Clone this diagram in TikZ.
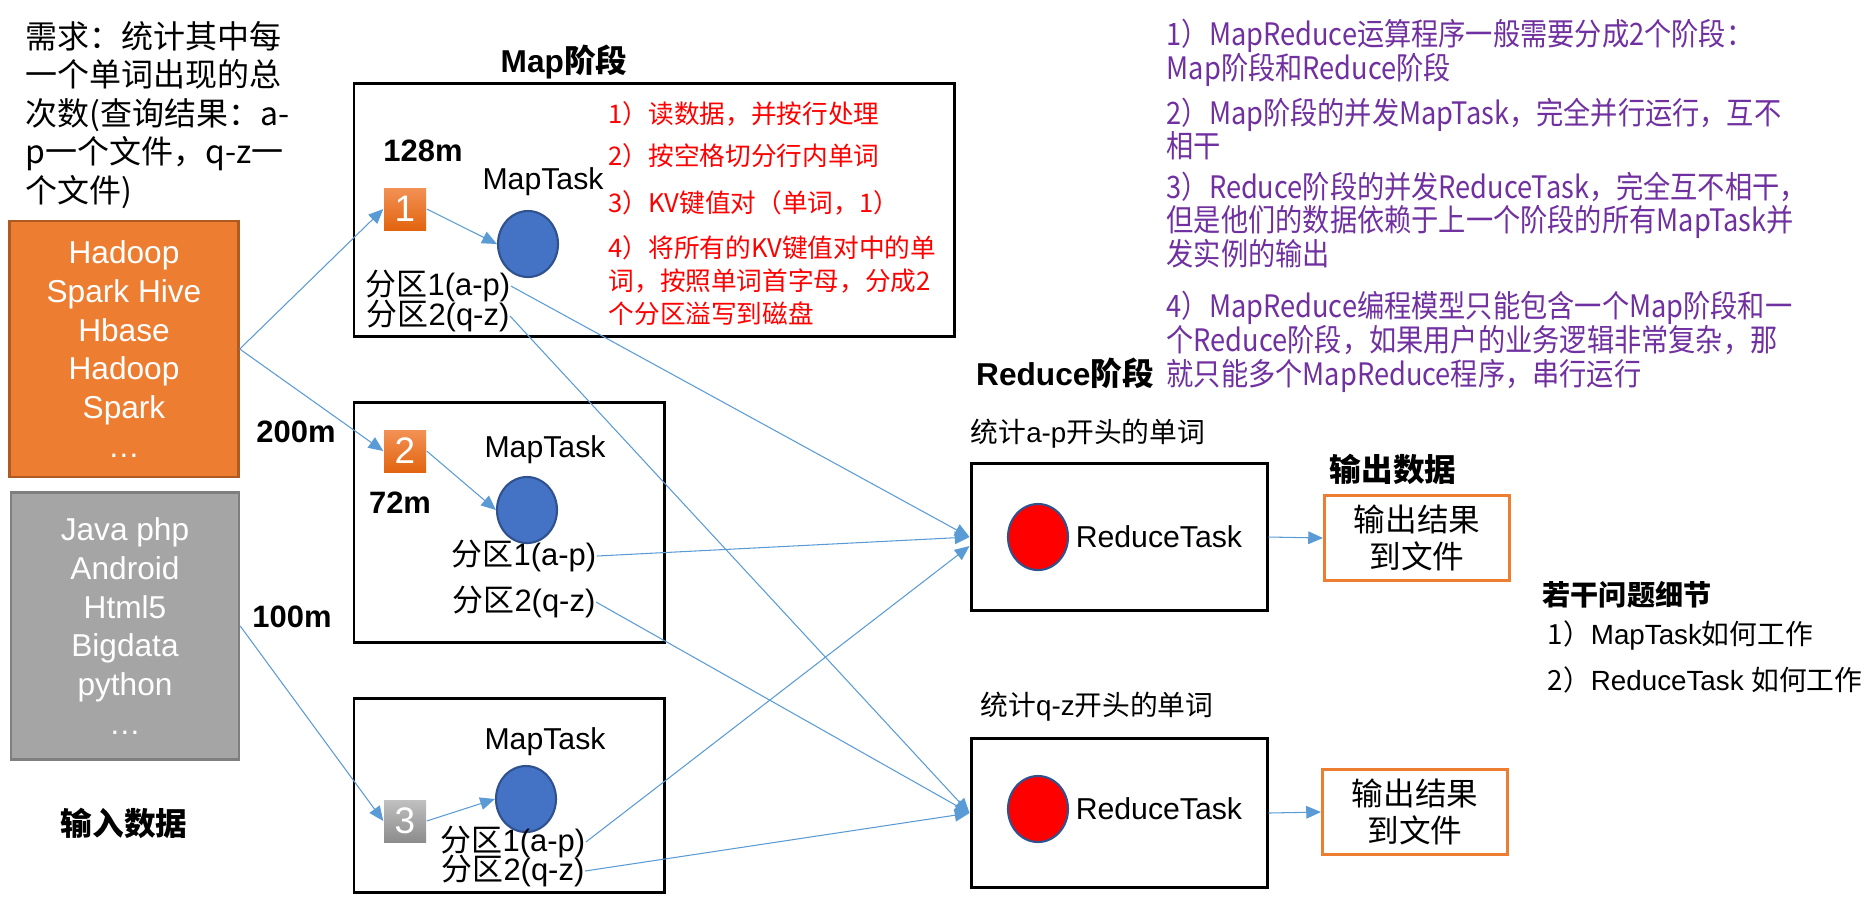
\documentclass[tikz,border=0pt]{standalone}
\usepackage{fontspec}
\setmainfont{Liberation Sans}
\newfontfamily\cjk{Noto Sans CJK SC}
\newfontfamily\cjknarrow[FakeStretch=0.88]{Noto Sans CJK SC}
\usetikzlibrary{arrows.meta, positioning, shapes.geometric, calc}
\usepackage{xcolor}
\definecolor{mblue}{RGB}{91,155,213}
\definecolor{torange}{RGB}{237,125,49}
\definecolor{dorange}{RGB}{174,90,33}
\definecolor{tgray}{RGB}{165,165,165}
\definecolor{dgray}{RGB}{127,127,127}
\definecolor{sqtop}{RGB}{242,145,85}
\definecolor{sqbot}{RGB}{226,100,15}
\definecolor{gtop}{RGB}{192,192,192}
\definecolor{gbot}{RGB}{140,140,140}
\definecolor{cblue}{RGB}{68,114,196}
\definecolor{cedge}{RGB}{47,82,143}
\definecolor{mpurple}{RGB}{112,48,160}
\newcommand{\zh}[1]{{\cjk #1}}

\begin{document}
\begin{tikzpicture}[
  phase/.style={draw,line width=0.85pt,inner sep=0pt},
  inbox/.style={draw=dorange,fill=torange,line width=0.7pt,text=white,align=center,
                inner sep=0pt,font=\fontsize{9}{11}\selectfont},
  inboxg/.style={inbox,draw=dgray,fill=tgray},
  chunk/.style={shade,top color=sqtop,bottom color=sqbot,text=white,
                minimum size=0.42cm,inner sep=0pt,font=\fontsize{10.5}{10.5}\selectfont},
  chunkg/.style={chunk,top color=gtop,bottom color=gbot},
  mtask/.style={ellipse,draw=cedge,fill=cblue,line width=0.6pt,
                minimum width=0.6cm,minimum height=0.66cm,inner sep=0pt},
  rtask/.style={mtask,fill=red},
  outbox/.style={draw=torange,line width=0.85pt,align=center,inner sep=0pt,
                 minimum width=1.85cm,minimum height=0.85cm,font=\cjk\fontsize{9}{10.4}\selectfont},
  lbl/.style={font=\fontsize{8.6}{10}\selectfont,inner sep=0pt},
  part/.style={font=\fontsize{8.8}{10}\selectfont,inner sep=0pt},
  mb/.style={font=\bfseries\fontsize{8.8}{10}\selectfont,inner sep=0pt},
  head/.style={font=\bfseries\fontsize{9}{10}\selectfont,inner sep=0pt},
  redtxt/.style={align=left,anchor=west,inner sep=0pt,text=red,font=\cjk\fontsize{7.3}{9.4}\selectfont},
  note/.style={align=left,anchor=west,inner sep=0pt,text=mpurple,font=\cjknarrow\fontsize{8.8}{9.6}\selectfont},
  arr/.style={-{Triangle[length=4.2pt,width=3.6pt]},mblue,line width=0.3pt}
]
\useasboundingbox (0,0) rectangle (18.70,-9.05);

% input
\node[align=left,anchor=west,inner sep=0pt,font=\cjk\fontsize{9.1}{10.95}\selectfont] (req) at (0.25,-1.15)
  {需求：统计其中每\\一个单词出现的总\\次数(查询结果：a-\\p一个文件，q-z一\\个文件)};
\node[inbox,minimum width=2.29cm,minimum height=2.56cm] (inA) at (1.24,-3.49)
  {Hadoop\\Spark Hive\\Hbase\\Hadoop\\Spark\\…};
\node[inboxg,minimum width=2.28cm,minimum height=2.67cm] (inB) at (1.25,-6.26)
  {Java php\\Android\\Html5\\Bigdata\\python\\…};
\node[head] (inlbl) at (1.24,-8.23) {\zh{输入数据}};

% map phase
\node[head] (maplbl) at (5.64,-0.62) {Map\zh{阶段}};
\node[phase,minimum width=6.00cm,minimum height=2.53cm] (m1) at (6.54,-2.095) {};
\node[phase,minimum width=3.10cm,minimum height=2.40cm] (m2) at (5.09,-5.22) {};
\node[phase,minimum width=3.10cm,minimum height=1.94cm] (m3) at (5.09,-7.95) {};

\node[mb] (s1) at (4.23,-1.51) {128m};
\node[mb] (s2) at (2.96,-4.32) {200m};
\node[mb] (s3) at (2.92,-6.17) {100m};
\node[mb] (s4) at (4.00,-5.03) {72m};

\node[chunk]  (sq1) at (4.05,-2.09) {1};
\node[chunk]  (sq2) at (4.05,-4.51) {2};
\node[chunkg] (sq3) at (4.05,-8.21) {3};

\node[mtask] (c1) at (5.28,-2.44) {};
\node[mtask] (c2) at (5.27,-5.10) {};
\node[mtask] (c3) at (5.26,-7.99) {};
\node[lbl] (t1) at (5.43,-1.82) {MapTask};
\node[lbl] (t2) at (5.45,-4.50) {MapTask};
\node[lbl] (t3) at (5.45,-7.42) {MapTask};

\node[part] (p11) at (4.38,-2.86) {\zh{分区}1(a-p)};
\node[part] (p12) at (4.38,-3.16) {\zh{分区}2(q-z)};
\node[part] (p21) at (5.24,-5.56) {\zh{分区}1(a-p)};
\node[part] (p22) at (5.24,-6.02) {\zh{分区}2(q-z)};
\node[part] (p31) at (5.13,-8.42) {\zh{分区}1(a-p)};
\node[part] (p32) at (5.13,-8.71) {\zh{分区}2(q-z)};

\node[redtxt] (k1) at (6.08,-1.14) {1）读数据，并按行处理};
\node[redtxt] (k2) at (6.08,-1.56) {2）按空格切分行内单词};
\node[redtxt] (k3) at (6.08,-2.03) {3）KV键值对（单词，1）};
\node[redtxt] (k4) at (6.08,-2.81) {4）将所有的KV键值对中的单\\词，按照单词首字母，分成2\\个分区溢写到磁盘};

% reduce phase
\node[head] (redlbl) at (10.65,-3.73) {Reduce\zh{阶段}};
\node[part,font=\fontsize{7.9}{9}\selectfont] (g1) at (10.88,-4.34) {\zh{统计}a-p\zh{开头的单词}};
\node[part,font=\fontsize{7.9}{9}\selectfont] (g2) at (10.97,-7.07) {\zh{统计}q-z\zh{开头的单词}};
\node[phase,minimum width=2.96cm,minimum height=1.47cm] (r1) at (11.19,-5.37) {};
\node[phase,minimum width=2.96cm,minimum height=1.49cm] (r2) at (11.19,-8.13) {};
\node[rtask] (rc1) at (10.38,-5.37) {};
\node[rtask] (rc2) at (10.38,-8.09) {};
\node[lbl,right=0.06cm of rc1] (rt1) {ReduceTask};
\node[lbl,right=0.06cm of rc2] (rt2) {ReduceTask};

% output
\node[head] (outlbl) at (13.93,-4.69) {\zh{输出数据}};
\node[outbox] (o1) at (14.17,-5.38) {输出结果\\到文件};
\node[outbox] (o2) at (14.15,-8.12) {输出结果\\到文件};

% notes
\node[head,anchor=west,font=\cjk\bfseries\fontsize{8}{9}\selectfont] (q0) at (15.42,-5.95) {若干问题细节};
\node[part,anchor=west,font=\fontsize{7.9}{9}\selectfont] (q1) at (15.47,-6.35) {\zh{1）}MapTask\zh{如何工作}};
\node[part,anchor=west,font=\fontsize{7.9}{9}\selectfont] (q2) at (15.47,-6.80) {\zh{2）}ReduceTask \zh{如何工作}};

\node[note] (n1) at (11.66,-0.53) {1）MapReduce运算程序一般需要分成2个阶段：\\Map阶段和Reduce阶段};
\node[note] (n2) at (11.66,-1.29) {2）Map阶段的并发MapTask，完全并行运行，互不\\相干};
\node[note] (n3) at (11.66,-2.20) {3）Reduce阶段的并发ReduceTask，完全互不相干，\\但是他们的数据依赖于上一个阶段的所有MapTask并\\发实例的输出};
\node[note] (n4) at (11.66,-3.42) {4）MapReduce编程模型只能包含一个Map阶段和一\\个Reduce阶段，如果用户的业务逻辑非常复杂，那\\就只能多个MapReduce程序，串行运行};

% connectors
\draw[arr] (inA.east) -- (sq1.west);
\draw[arr] (inA.east) -- (sq2.west);
\draw[arr] (inB.east) -- (sq3.west);
\draw[arr] (sq1.east) -- (c1.west);
\draw[arr] (sq2.east) -- (c2.west);
\draw[arr] (sq3.east) -- (c3.west);
\draw[arr] (p11.east) -- (r1.west);
\draw[arr] (p21.east) -- (r1.west);
\draw[arr] (p31.east) -- ([yshift=-0.09cm]r1.west);
\draw[arr] (p12.east) -- (r2.west);
\draw[arr] (p22.east) -- (r2.west);
\draw[arr] (p32.east) -- (r2.west);
\draw[arr] (r1.east) -- (o1.west);
\draw[arr] (r2.east) -- (o2.west);
\end{tikzpicture}
\end{document}
